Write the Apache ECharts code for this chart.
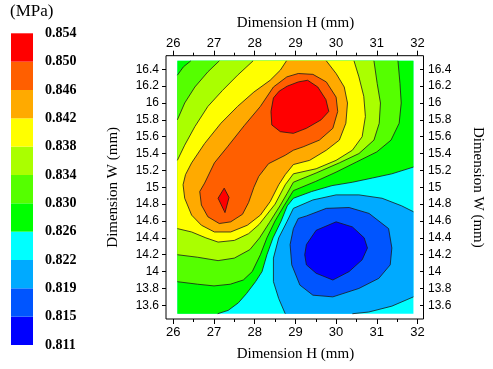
<!DOCTYPE html>
<html>
<head>
<meta charset="utf-8">
<script src="https://cdn.jsdelivr.net/npm/echarts@6/dist/echarts.min.js"></script>
<style>
  html, body { margin: 0; padding: 0; background: #fff; }
  #chart { width: 493px; height: 369px; }
</style>
</head>
<body>
<div id="chart"></div>
<script>
// colour scale (MPa), bottom to top
const levels = ['0.811', '0.815', '0.819', '0.822', '0.826', '0.830', '0.834', '0.838', '0.842', '0.846', '0.850', '0.854'];
const bandColors = ['#0000FF', '#0055FF', '#00AAFF', '#00FFFF', '#00FF00', '#55FF00', '#AAFF00', '#FFFF00', '#FFAA00', '#FF5F00', '#FF0000'];

// measured domain (H, W in mm)
const xLo = 26.1, xHi = 31.9, yLo = 13.5, yHi = 16.5;

// contour lines, [H, W]
const c830L = [[26.1, 16.33], [26.25, 16.43], [26.43, 16.5]];
const c830R = [[31.52, 16.5], [31.57, 16.23], [31.6, 16.0], [31.55, 15.76], [31.35, 15.56], [31.0, 15.42], [30.5, 15.3], [30.0, 15.18], [29.5, 15.07], [28.95, 14.96], [28.72, 14.78], [28.5, 14.6], [28.3, 14.4], [28.14, 14.2], [27.94, 14.0], [27.72, 13.9], [27.4, 13.85], [27.0, 13.83], [26.6, 13.85], [26.1, 13.88]];
const c834L = [[26.1, 15.8], [26.28, 16.0], [26.53, 16.19], [26.85, 16.37], [27.13, 16.5]];
const c834R = [[30.93, 16.5], [31.01, 16.23], [31.09, 16.0], [31.06, 15.76], [30.93, 15.56], [30.56, 15.4], [30.08, 15.29], [29.51, 15.17], [28.95, 15.06], [28.8, 14.93], [28.62, 14.78], [28.36, 14.58], [28.12, 14.4], [27.88, 14.26], [27.5, 14.16], [27.1, 14.13], [26.6, 14.17], [26.1, 14.2]];
const c838L = [[26.1, 15.32], [26.28, 15.5], [26.53, 15.72], [26.85, 15.96], [27.21, 16.15], [27.58, 16.33], [27.96, 16.5]];
const c838R = [[30.44, 16.5], [30.56, 16.31], [30.68, 16.08], [30.72, 15.84], [30.64, 15.6], [30.4, 15.44], [30.0, 15.32], [29.51, 15.22], [28.95, 15.16], [28.75, 15.03], [28.5, 14.8], [28.11, 14.56], [27.85, 14.45], [27.5, 14.37], [27.1, 14.35], [26.8, 14.4], [26.45, 14.47], [26.1, 14.51]];
const c842 = [[28.78, 16.5], [28.63, 16.39], [28.38, 16.27], [27.98, 16.13], [27.58, 15.96], [27.17, 15.76], [26.77, 15.52], [26.45, 15.29], [26.3, 15.15], [26.24, 15.03], [26.28, 14.87], [26.45, 14.67], [26.69, 14.55], [27.01, 14.47], [27.41, 14.47], [27.82, 14.55], [28.14, 14.67], [28.38, 14.83], [28.59, 15.03], [28.75, 15.15], [28.95, 15.27], [29.35, 15.32], [29.76, 15.44], [30.08, 15.56], [30.24, 15.76], [30.28, 16.0], [30.2, 16.19], [30.0, 16.35], [29.76, 16.5]];
const c846 = [[28.46, 16.19], [28.79, 16.31], [29.07, 16.35], [29.43, 16.34], [29.76, 16.25], [30.0, 16.07], [30.04, 15.9], [29.92, 15.7], [29.59, 15.56], [29.19, 15.48], [28.95, 15.44], [28.75, 15.38], [28.34, 15.28], [28.1, 15.13], [27.98, 15.0], [27.85, 14.82], [27.7, 14.68], [27.41, 14.59], [27.13, 14.57], [26.85, 14.65], [26.69, 14.79], [26.65, 14.95], [26.77, 15.05], [27.01, 15.29], [27.33, 15.48], [27.74, 15.73], [28.14, 15.96]];
const c850a = [[28.4, 15.9], [28.46, 16.06], [28.6, 16.14], [28.8, 16.2], [29.07, 16.25], [29.3, 16.27], [29.55, 16.19], [29.75, 16.04], [29.82, 15.9], [29.63, 15.8], [29.27, 15.7], [28.95, 15.64], [28.63, 15.66], [28.42, 15.74]];
const c850b = [[27.25, 14.99], [27.37, 14.88], [27.27, 14.7], [27.1, 14.87]];
const c826 = [[31.9, 15.24], [31.37, 15.16], [30.89, 15.11], [30.4, 15.06], [29.9, 15.02], [29.4, 14.95], [28.95, 14.87], [28.8, 14.78], [28.65, 14.6], [28.45, 14.4], [28.3, 14.2], [28.18, 14.0], [28.02, 13.88], [27.8, 13.74], [27.6, 13.63], [27.35, 13.54], [27.09, 13.5]];
const c822a = [[31.9, 14.71], [31.61, 14.78], [31.13, 14.87], [30.56, 14.91], [30.0, 14.91], [29.43, 14.85], [28.95, 14.75], [28.79, 14.59], [28.59, 14.4], [28.46, 14.16], [28.46, 13.88], [28.59, 13.68], [28.75, 13.5]];
const c822b = [[30.4, 13.5], [30.8, 13.52], [31.37, 13.59], [31.9, 13.7]];
const c819 = [[29.07, 14.63], [29.27, 14.66], [29.76, 14.75], [30.32, 14.76], [30.81, 14.69], [31.29, 14.51], [31.37, 14.28], [31.33, 14.08], [31.05, 13.92], [30.56, 13.8], [29.92, 13.7], [29.43, 13.72], [29.11, 13.84], [28.91, 14.08], [28.87, 14.32], [28.95, 14.51]];
const c815 = [[29.27, 14.32], [29.51, 14.49], [30.0, 14.59], [30.4, 14.53], [30.69, 14.4], [30.77, 14.28], [30.64, 14.14], [30.32, 14.0], [29.92, 13.9], [29.51, 13.98], [29.27, 14.08], [29.23, 14.2]];

// filled regions, painted in order
const fills = [
  { color: bandColors[3], pts: [[xLo, yLo], [xHi, yLo], [xHi, yHi], [xLo, yHi]] },
  { color: bandColors[4], pts: c826.concat([[xLo, yLo], [xLo, yHi], [xHi, yHi]]) },
  { color: bandColors[5], pts: c830L.concat(c830R) },
  { color: bandColors[6], pts: c834L.concat(c834R) },
  { color: bandColors[7], pts: c838L.concat(c838R) },
  { color: bandColors[8], pts: c842 },
  { color: bandColors[9], pts: c846 },
  { color: bandColors[10], pts: c850a },
  { color: bandColors[10], pts: c850b },
  { color: bandColors[2], pts: c822a.concat(c822b) },
  { color: bandColors[1], pts: c819 },
  { color: bandColors[0], pts: c815 }
];
const openLines = [c830L, c830R, c834L, c834R, c838L, c838R, c842, c826, c822a, c822b];
const closedLines = [c846, c850a, c850b, c819, c815];
const allLines = openLines.map(p => ({ pts: p, closed: false }))
  .concat(closedLines.map(p => ({ pts: p, closed: true })));

const chart = echarts.init(document.getElementById('chart'), null, { renderer: 'canvas' });

const serif = 'Liberation Serif';
const sans = 'Liberation Sans';
const black = '#000';

const xAxisBase = {
  gridIndex: 1,
  type: 'value',
  min: 26,
  max: 32,
  interval: 1,
  axisLine: { show: false },
  axisTick: { show: true, length: 5, lineStyle: { color: black } },
  minorTick: { show: true, splitNumber: 2, length: 3, lineStyle: { color: black } },
  axisLabel: { color: black, fontFamily: sans, fontSize: 13 },
  splitLine: { show: false },
  name: 'Dimension H (mm)',
  nameLocation: 'middle',
  nameTextStyle: { color: black, fontFamily: serif, fontSize: 15 }
};
const yAxisBase = {
  gridIndex: 1,
  type: 'value',
  min: 13.6,
  max: 16.4,
  interval: 0.2,
  axisLine: { show: false },
  axisTick: { show: true, length: 4, lineStyle: { color: black } },
  axisLabel: { color: black, fontFamily: sans, fontSize: 12 },
  splitLine: { show: false },
  name: 'Dimension W (mm)',
  nameLocation: 'middle',
  nameTextStyle: { color: black, fontFamily: serif, fontSize: 15 }
};

const option = {
  animation: false,
  backgroundColor: '#fff',
  title: {
    text: '(MPa)',
    left: 10,
    top: 3,
    padding: 0,
    textStyle: { fontFamily: serif, fontSize: 17, fontWeight: 'normal', color: black }
  },
  grid: [
    // frame
    { left: 166, top: 55.7, width: 257.5, height: 263.3, show: true, borderColor: black, borderWidth: 1, backgroundColor: 'transparent' },
    // plot scale
    { left: 173.3, top: 69.3, width: 247.7, height: 236 },
    // colour bar
    { left: 11, top: 33.3, width: 22, height: 311.7 }
  ],
  xAxis: [
    Object.assign({}, xAxisBase, { position: 'bottom', offset: 13.7, nameGap: 28, axisLabel: Object.assign({}, xAxisBase.axisLabel, { margin: 7 }) }),
    Object.assign({}, xAxisBase, { position: 'top', offset: 13.6, nameGap: 25, axisLabel: Object.assign({}, xAxisBase.axisLabel, { margin: 6 }) }),
    { gridIndex: 0, type: 'value', show: false, min: 0, max: 1 },
    { gridIndex: 2, type: 'value', show: false, min: 0, max: 1 }
  ],
  yAxis: [
    Object.assign({}, yAxisBase, { position: 'left', offset: 7.3, nameGap: 45, nameRotate: 90, axisLabel: Object.assign({}, yAxisBase.axisLabel, { margin: 7 }) }),
    Object.assign({}, yAxisBase, { position: 'right', offset: 2.5, nameGap: 50, nameRotate: -90, axisLabel: Object.assign({}, yAxisBase.axisLabel, { margin: 8 }) }),
    { gridIndex: 0, type: 'value', show: false, min: 0, max: 1 },
    {
      gridIndex: 2,
      type: 'value',
      position: 'right',
      min: 0,
      max: levels.length - 1,
      interval: 1,
      axisLine: { show: false },
      axisTick: { show: false },
      splitLine: { show: false },
      axisLabel: {
        color: black,
        fontFamily: serif,
        fontSize: 14,
        fontWeight: 'bold',
        margin: 12,
        formatter: v => levels[Math.round(v)]
      }
    }
  ],
  series: [
    {
      type: 'custom',
      xAxisIndex: 0,
      yAxisIndex: 0,
      clip: false,
      silent: true,
      z: 1,
      data: fills.map(f => f.pts[0]),
      renderItem: (params, api) => {
        const f = fills[params.dataIndex];
        return {
          type: 'polygon',
          shape: { points: f.pts.map(p => api.coord(p)) },
          style: { fill: f.color, stroke: null }
        };
      }
    },
    {
      type: 'custom',
      xAxisIndex: 0,
      yAxisIndex: 0,
      clip: false,
      silent: true,
      z: 2,
      data: allLines.map(l => l.pts[0]),
      renderItem: (params, api) => {
        const l = allLines[params.dataIndex];
        return {
          type: l.closed ? 'polygon' : 'polyline',
          shape: { points: l.pts.map(p => api.coord(p)) },
          style: { fill: null, stroke: '#1a1a1a', lineWidth: 0.8 }
        };
      }
    },
    {
      type: 'custom',
      xAxisIndex: 3,
      yAxisIndex: 3,
      silent: true,
      data: bandColors.map((c, i) => [0, i]),
      renderItem: (params, api) => {
        const i = params.dataIndex;
        const a = api.coord([0, i]);
        const b = api.coord([1, i + 1]);
        return {
          type: 'rect',
          shape: { x: a[0], y: b[1], width: b[0] - a[0], height: a[1] - b[1] },
          style: { fill: bandColors[i] }
        };
      }
    }
  ]
};

chart.setOption(option);
</script>
</body>
</html>
